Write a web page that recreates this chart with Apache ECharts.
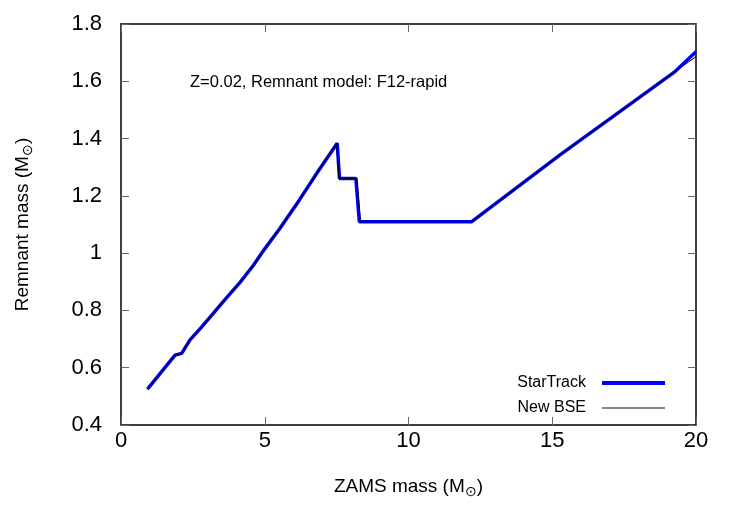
<!DOCTYPE html>
<html>
<head>
<meta charset="utf-8">
<script src="https://cdn.jsdelivr.net/npm/echarts@6/dist/echarts.min.js"></script>
<style>html,body{margin:0;padding:0;background:#fff;}#c{width:750px;height:525px;}</style>
</head>
<body>
<div id="c"></div>
<script>
var xTicks = [0, 5, 10, 15, 20];
var yTicks = [0.4, 0.6, 0.8, 1.0, 1.2, 1.4, 1.6, 1.8];

var starMass = [0.92, 1.88, 2.11, 2.40, 2.80, 3.21, 3.60, 4.14, 4.60, 5.00, 5.53, 6.20, 6.85, 7.52, 7.60, 8.17, 8.29, 12.20, 15.27, 19.27, 20.0];
var starRem  = [0.525, 0.644, 0.650, 0.697, 0.742, 0.790, 0.836, 0.898, 0.957, 1.015, 1.087, 1.185, 1.285, 1.384, 1.261, 1.261, 1.110, 1.110, 1.343, 1.634, 1.703];

var bseMass = [0.92, 1.88, 2.11, 2.40, 2.80, 3.21, 3.60, 4.14, 4.60, 5.00, 5.53, 6.20, 6.85, 7.50, 7.58, 8.20, 8.33, 12.20, 15.27, 19.27, 20.0];
var bseRem  = [0.525, 0.644, 0.650, 0.697, 0.742, 0.790, 0.836, 0.898, 0.957, 1.015, 1.087, 1.185, 1.285, 1.384, 1.261, 1.261, 1.110, 1.110, 1.343, 1.634, 1.686];

function pairs(a, b) { return a.map(function (v, i) { return [v, b[i]]; }); }

var FONT = 'Liberation Sans';
var chart = echarts.init(document.getElementById('c'), null, {renderer: 'canvas'});

var nameRich = {
  m: {fontFamily: FONT, fontSize: 19, color: '#000'},
  s: {fontFamily: FONT, fontSize: 14, color: '#000', padding: [11, 0, 0, 0]}
};

var frameLine = {show: true, onZero: false, lineStyle: {color: '#000', width: 1.5}};
var frameTick = {show: true, inside: true, length: 8, lineStyle: {color: '#666'}};

chart.setOption({
  animation: false,
  backgroundColor: '#fff',
  grid: {left: 121, right: 54, top: 24, bottom: 100, containLabel: false},
  xAxis: [{
    type: 'value', min: 0, max: 20, interval: 5,
    name: '{m|ZAMS mass (M}{s|⊙}{m|)}',
    nameLocation: 'middle', nameGap: 49,
    nameTextStyle: {rich: nameRich},
    axisLine: frameLine, axisTick: frameTick,
    axisLabel: {fontFamily: FONT, fontSize: 22, color: '#000', margin: 5},
    splitLine: {show: false}
  }, {
    type: 'value', min: 0, max: 20, interval: 5, position: 'top',
    axisLine: frameLine, axisTick: frameTick,
    axisLabel: {show: false}, splitLine: {show: false}
  }],
  yAxis: [{
    type: 'value', min: 0.4, max: 1.8, interval: 0.2,
    name: '{m|Remnant mass (M}{s|⊙}{m|)}',
    nameLocation: 'middle', nameGap: 86, nameRotate: 90,
    nameTextStyle: {rich: nameRich},
    axisLine: frameLine, axisTick: frameTick,
    axisLabel: {fontFamily: FONT, fontSize: 22, color: '#000', margin: 19,
      formatter: function (v) { return String(Math.round(v * 10) / 10); }},
    splitLine: {show: false}
  }, {
    type: 'value', min: 0.4, max: 1.8, interval: 0.2, position: 'right',
    axisLine: frameLine, axisTick: frameTick,
    axisLabel: {show: false}, splitLine: {show: false}
  }],
  legend: {
    orient: 'vertical', right: 78, top: 370, align: 'right',
    itemWidth: 63, itemHeight: 14, itemGap: 9,
    itemStyle: {opacity: 0},
    textStyle: {fontFamily: FONT, fontSize: 16, color: '#000', padding: [0, 11, 0, 0]},
    data: [
      {name: 'StarTrack', lineStyle: {color: '#0000ff', width: 4}},
      {name: 'New BSE', lineStyle: {color: '#111', width: 1}}
    ]
  },
  graphic: [{
    type: 'text', left: 190, top: 74,
    style: {text: 'Z=0.02, Remnant model: F12-rapid', font: '16.5px "Liberation Sans"', fill: '#000'}
  }],
  series: [{
    name: 'StarTrack', type: 'line', showSymbol: false, symbol: 'none',
    data: pairs(starMass, starRem),
    lineStyle: {color: '#0000ff', width: 3.5},
    itemStyle: {color: '#0000ff'}, z: 2
  }, {
    name: 'New BSE', type: 'line', showSymbol: false, symbol: 'none',
    data: pairs(bseMass, bseRem),
    lineStyle: {color: '#000', width: 1},
    itemStyle: {color: '#000'}, z: 3
  }]
});
</script>
</body>
</html>
